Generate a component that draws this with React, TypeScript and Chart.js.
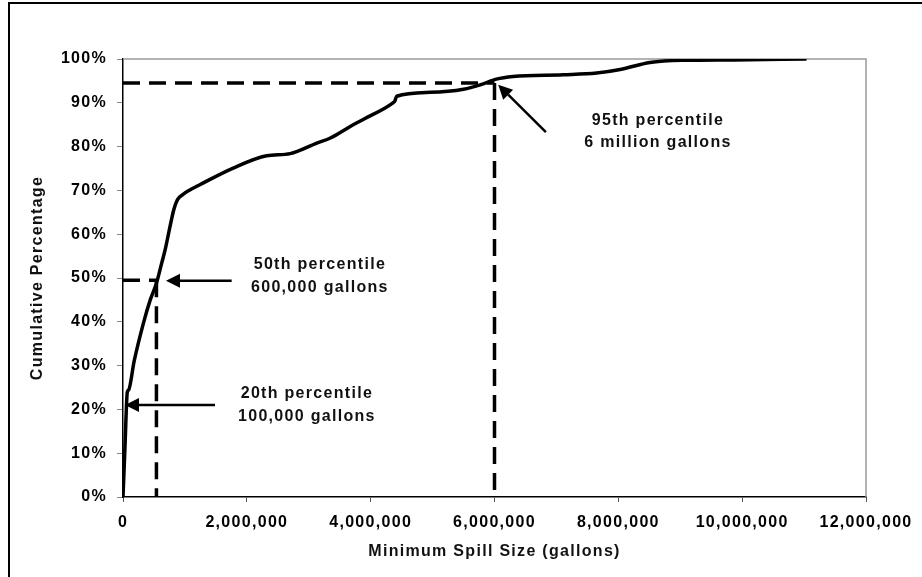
import React, { useEffect, useRef } from 'react';
import { Chart, registerables } from 'chart.js';

Chart.register(...registerables);

// Minimum spill size (gallons) and cumulative percentage
const spillSizes = [
  0, 30000, 70000, 90000, 180000, 330000, 440000, 540000, 625000, 680000,
  760000, 820000, 880000, 960000, 1080000, 1240000, 1780000, 2320000, 2700000, 3130000,
  3340000, 3670000, 3880000, 4360000, 4390000, 4420000, 4960000, 5500000, 5770000, 6030000,
  6300000, 7110000, 7650000, 8030000, 8510000, 9050000, 9860000, 11040000,
];
const cumulativePct = [
  0, 10.7, 24, 24.4, 31.0, 39.7, 45, 48.8, 53.4, 56.4,
  61.8, 65.6, 67.9, 69, 70.1, 71.3, 75.1, 77.9, 78.4, 80.8,
  81.9, 84.6, 86.2, 90.0, 90.4, 91.5, 92.4, 93.1, 94.1, 95.4,
  96.0, 96.4, 96.8, 97.6, 99.2, 99.7, 99.8, 100,
];

const xMin = 0;
const xMax = 12000000;
const xStep = 2000000;
const yMin = 0;
const yMax = 100;
const yStep = 10;

const xTitle = 'Minimum Spill Size (gallons)';
const yTitle = 'Cumulative Percentage';

// Percentile guide lines (value, percentage)
const guideX = [540000, 6000000];
const guideY = [49.5, 94.5];

// Arrows: tail -> tip in data coordinates
const arrowFromX = [1486000, 1755000, 6830000];
const arrowFromY = [21, 49.4, 83.3];
const arrowToX = [32000, 694000, 6060000];
const arrowToY = [21, 49.4, 94.1];

// Annotation labels (center in data coordinates)
const noteX = [2970000, 3180000, 8640000];
const noteY = [21.0, 50.4, 83.4];
const noteLine1 = ['20th percentile', '50th percentile', '95th percentile'];
const noteLine2 = ['100,000 gallons', '600,000 gallons', '6 million gallons'];

const FONT_FAMILY = "'Liberation Sans', Arial, Helvetica, sans-serif";
const LETTER_SPACING = '1.3px';

const decorPlugin = {
  id: 'decor',
  beforeDraw(chart: any) {
    (chart.ctx as any).letterSpacing = LETTER_SPACING;
  },
  beforeDatasetsDraw(chart: any) {
    const { ctx, chartArea } = chart;
    const xs = chart.scales.x;
    const ys = chart.scales.y;
    ctx.save();
    // outer frame (left & top)
    ctx.strokeStyle = '#000';
    ctx.lineWidth = 2;
    ctx.beginPath();
    ctx.moveTo(9, chart.height + 5);
    ctx.lineTo(9, 3);
    ctx.lineTo(chart.width + 5, 3);
    ctx.stroke();
    // plot area border (top & right)
    ctx.strokeStyle = '#9a9a9a';
    ctx.lineWidth = 1.5;
    ctx.beginPath();
    ctx.moveTo(chartArea.left, chartArea.top);
    ctx.lineTo(chartArea.right, chartArea.top);
    ctx.lineTo(chartArea.right, chartArea.bottom);
    ctx.stroke();
    // dashed guides
    ctx.strokeStyle = '#000';
    ctx.lineWidth = 3.5;
    ctx.setLineDash([17, 9]);
    ctx.lineCap = 'butt';
    for (let i = 0; i < guideX.length; i++) {
      const px = xs.getPixelForValue(guideX[i]);
      const py = ys.getPixelForValue(guideY[i]);
      ctx.beginPath();
      ctx.moveTo(xs.getPixelForValue(xMin), py);
      ctx.lineTo(px, py);
      ctx.stroke();
      ctx.beginPath();
      ctx.moveTo(px, py);
      ctx.lineTo(px, ys.getPixelForValue(yMin));
      ctx.stroke();
    }
    ctx.restore();
  },
  afterDraw(chart: any) {
    const { ctx } = chart;
    const xs = chart.scales.x;
    const ys = chart.scales.y;
    ctx.save();
    // arrows
    ctx.strokeStyle = '#000';
    ctx.fillStyle = '#000';
    ctx.lineWidth = 2.5;
    for (let i = 0; i < arrowFromX.length; i++) {
      const x1 = xs.getPixelForValue(arrowFromX[i]);
      const y1 = ys.getPixelForValue(arrowFromY[i]);
      const x2 = xs.getPixelForValue(arrowToX[i]);
      const y2 = ys.getPixelForValue(arrowToY[i]);
      const ang = Math.atan2(y2 - y1, x2 - x1);
      const headLen = 14;
      const headW = 7;
      const bx = x2 - headLen * Math.cos(ang);
      const by = y2 - headLen * Math.sin(ang);
      ctx.beginPath();
      ctx.moveTo(x1, y1);
      ctx.lineTo(bx, by);
      ctx.stroke();
      ctx.beginPath();
      ctx.moveTo(x2, y2);
      ctx.lineTo(bx + headW * Math.sin(ang), by - headW * Math.cos(ang));
      ctx.lineTo(bx - headW * Math.sin(ang), by + headW * Math.cos(ang));
      ctx.closePath();
      ctx.fill();
    }
    // notes
    (ctx as any).letterSpacing = LETTER_SPACING;
    ctx.font = `bold 16px ${FONT_FAMILY}`;
    ctx.textAlign = 'center';
    ctx.textBaseline = 'middle';
    ctx.fillStyle = '#111';
    for (let i = 0; i < noteX.length; i++) {
      const cx = xs.getPixelForValue(noteX[i]);
      const cy = ys.getPixelForValue(noteY[i]);
      ctx.fillText(noteLine1[i], cx, cy - 11.3);
      ctx.fillText(noteLine2[i], cx, cy + 11.3);
    }
    ctx.restore();
  },
};

export default function App() {
  const canvasRef = useRef<HTMLCanvasElement | null>(null);

  useEffect(() => {
    if (!canvasRef.current) return;
    const font = { family: FONT_FAMILY, size: 16, weight: 'bold' as const };
    const points = spillSizes.map((x, i) => ({ x, y: cumulativePct[i] }));
    const chart = new Chart(canvasRef.current, {
      type: 'line',
      data: {
        datasets: [
          {
            data: points,
            borderColor: '#000',
            borderWidth: 3.5,
            pointRadius: 0,
            fill: false,
            cubicInterpolationMode: 'monotone',
          },
        ],
      },
      options: {
        responsive: false,
        animation: false,
        devicePixelRatio: 1,
        layout: { padding: { left: 0, top: 59, right: 56, bottom: 0 } },
        plugins: { legend: { display: false }, tooltip: { enabled: false } },
        scales: {
          x: {
            type: 'linear',
            min: xMin,
            max: xMax,
            afterFit: (s: any) => {
              s.height = 80;
            },
            ticks: {
              stepSize: xStep,
              autoSkip: false,
              maxRotation: 0,
              color: '#000',
              font,
              padding: 11,
              callback: (v: any) => Number(v).toLocaleString('en-US'),
            },
            grid: { drawOnChartArea: false, drawTicks: true, tickLength: 5, tickColor: '#555', tickWidth: 1 },
            border: { color: '#000', width: 1.5 },
            title: { display: true, text: xTitle, color: '#111', font, padding: { top: 0, bottom: 15.7 } },
          },
          y: {
            type: 'linear',
            min: yMin,
            max: yMax,
            afterFit: (s: any) => {
              s.width = 123;
            },
            ticks: {
              stepSize: yStep,
              color: '#000',
              font,
              padding: 10,
              callback: (v: any) => `${v}%`,
            },
            grid: { drawOnChartArea: false, drawTicks: true, tickLength: 6, tickColor: '#888', tickWidth: 1 },
            border: { color: '#000', width: 1.5 },
            title: { display: true, text: yTitle, color: '#111', font, padding: { top: 28.4, bottom: 0 } },
          },
        },
      },
      plugins: [decorPlugin],
    });
    return () => chart.destroy();
  }, []);

  return (
    <div style={{ position: 'absolute', left: 0, top: 0, width: 922, height: 577, background: '#fff' }}>
      <canvas ref={canvasRef} width={922} height={577} style={{ display: 'block', width: 922, height: 577 }} />
    </div>
  );
}
